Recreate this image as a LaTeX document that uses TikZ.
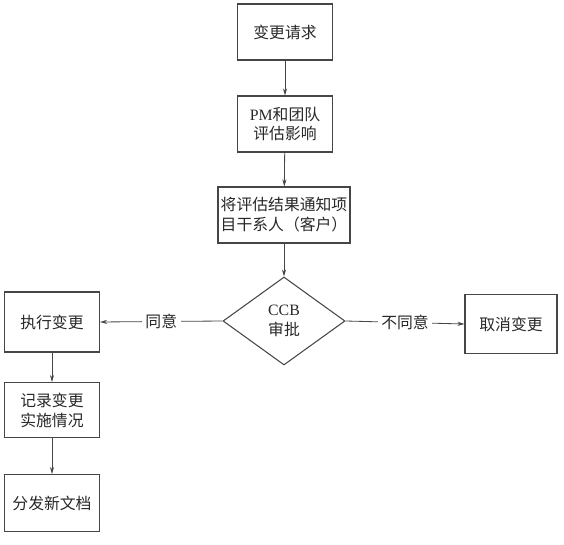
\documentclass[tikz,border=0pt]{standalone}
\usepackage{fontspec}
\usepackage{xcolor}
\usepackage{tikz}
\usetikzlibrary{shapes.geometric, arrows.meta, positioning}
\newfontfamily\cjk{Noto Sans CJK SC}
\newfontfamily\latinserif{Liberation Serif}
\newcommand{\lat}[1]{{\latinserif #1}}
\definecolor{LineGray}{RGB}{70,70,70}
\definecolor{TextGray}{RGB}{40,40,40}
\tikzset{
  stepbox/.style={
    rectangle, draw=LineGray, line width=0.9pt, fill=white,
    minimum width=2.85cm, minimum height=1.68cm, inner sep=2pt,
    font=\cjk\fontsize{13.5pt}{17pt}\selectfont, text=TextGray, align=center
  },
  gate/.style={
    diamond, draw=LineGray, line width=0.9pt, fill=white,
    minimum width=3.66cm, minimum height=2.64cm, inner sep=0pt,
    font=\cjk\fontsize{13.5pt}{17pt}\selectfont, text=TextGray, align=center
  },
  arr/.style={-{Stealth[length=6pt,width=3.5pt]}, draw=LineGray, line width=0.7pt},
  lbl/.style={font=\cjk\fontsize{13.5pt}{17pt}\selectfont, text=TextGray,
    fill=white, inner sep=3pt}
}

\begin{document}
\begin{tikzpicture}
  \useasboundingbox (0,0) rectangle (16.92,-16.35);

  % Main column
  \node[stepbox] (req)    at (8.55,-0.96) {变更请求};
  \node[stepbox] (eval)   at (8.55,-3.72) {\lat{PM}和团队\\评估影响};
  \node[stepbox, minimum width=3.96cm] (notify) at (8.52,-6.45)
                                          {将评估结果通知项\\目干系人（客户）};
  \node[gate]    (ccb)    at (8.52,-9.63) {\lat{CCB}\\审批};

  % Side outcomes
  \node[stepbox, minimum height=1.8cm]  (exec)   at (1.56,-9.66)  {执行变更};
  \node[stepbox, minimum width=2.76cm, minimum height=1.77cm]
                                          (cancel) at (15.33,-9.72) {取消变更};

  % Left column
  \node[stepbox, minimum height=1.65cm] (record) at (1.56,-12.3) {记录变更\\实施情况};
  \node[stepbox, minimum height=1.71cm] (dist)   at (1.56,-15.09) {分发新文档};

  % Connectors
  \draw[arr] (req) -- (eval);
  \draw[arr] (eval) -- (notify);
  \draw[arr] (notify) -- (ccb);
  \draw[arr] (ccb.west) -- node[lbl] {同意} (exec.east);
  \draw[arr] (ccb.east) -- node[lbl] {不同意} (cancel.west);
  \draw[arr] (exec) -- (record);
  \draw[arr] (record) -- (dist);
\end{tikzpicture}
\end{document}
